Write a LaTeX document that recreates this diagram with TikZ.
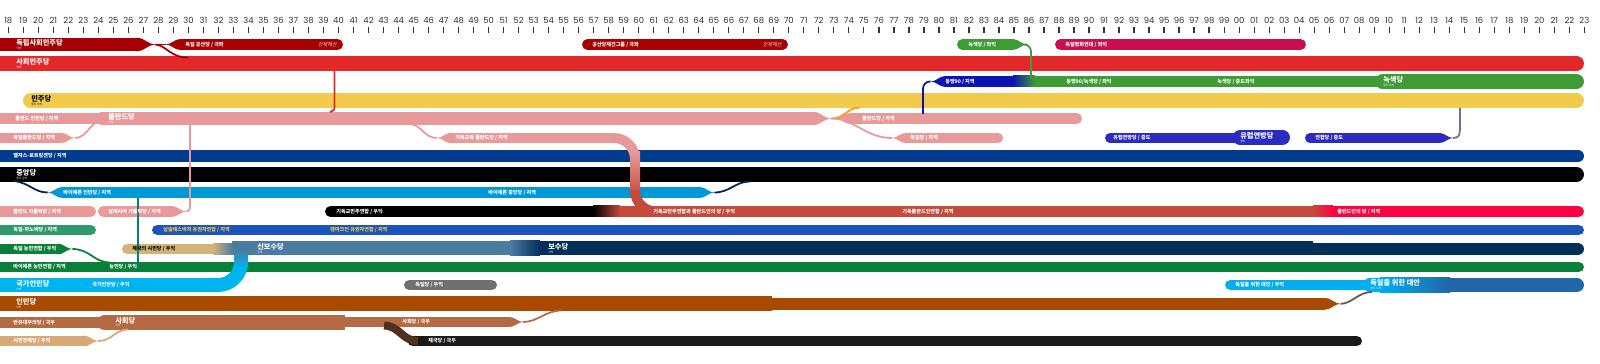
\documentclass[tikz,border=0pt]{standalone}
\usepackage{fontspec}
\setmainfont{Noto Sans CJK KR}
\newfontfamily\yearfont{Poppins}
\newfontfamily\slantfont{Noto Sans CJK KR}[FakeSlant=0.2]
\usetikzlibrary{calc}

\definecolor{axisgray}{HTML}{333333}
\definecolor{uspd}{HTML}{A60000}
\definecolor{spd}{HTML}{E3282A}
\definecolor{gruen}{HTML}{3F9C35}
\definecolor{frieden}{HTML}{C8104F}
\definecolor{buendnis}{HTML}{0A14B4}
\definecolor{ddp}{HTML}{F2CB4C}
\definecolor{polen}{HTML}{E89A9A}
\definecolor{europa}{HTML}{2B2BC0}
\definecolor{elsass}{HTML}{003B8E}
\definecolor{bvp}{HTML}{0098D6}
\definecolor{cdu}{HTML}{C44A3C}
\definecolor{polpartei}{HTML}{FF0040}
\definecolor{ssw}{HTML}{1A55BD}
\definecolor{sswtext}{HTML}{F2CB4C}
\definecolor{hannover}{HTML}{2E9A6C}
\definecolor{bauern}{HTML}{0A7F3A}
\definecolor{reich}{HTML}{D2B478}
\definecolor{neukons}{HTML}{4A7BA0}
\definecolor{kons}{HTML}{002F5A}
\definecolor{dnvp}{HTML}{00B4F0}
\definecolor{dp}{HTML}{707070}
\definecolor{afd}{HTML}{00AEEF}
\definecolor{afddark}{HTML}{2066A8}
\definecolor{volk}{HTML}{A84A00}
\definecolor{sozial}{HTML}{B46A42}
\definecolor{wirtschaft}{HTML}{D9A877}
\definecolor{reichspartei}{HTML}{1A1A1A}

\newcommand\tipr[4]{\fill[#1] ({#2-0.5},{#3-#4/2}) .. controls ({#2+#4*0.5},{#3-#4/2}) and ({#2+#4*0.8},{#3}) .. ({#2+#4*1.3},{#3}) .. controls ({#2+#4*0.8},{#3}) and ({#2+#4*0.5},{#3+#4/2}) .. ({#2-0.5},{#3+#4/2}) -- cycle;}
\newcommand\tipl[4]{\fill[#1] ({#2+0.5},{#3-#4/2}) .. controls ({#2-#4*0.5},{#3-#4/2}) and ({#2-#4*0.8},{#3}) .. ({#2-#4*1.3},{#3}) .. controls ({#2-#4*0.8},{#3}) and ({#2-#4*0.5},{#3+#4/2}) .. ({#2+0.5},{#3+#4/2}) -- cycle;}
\newcommand\roundend[4]{\fill[#1] (#2,#3) circle[radius=#4/2];}

\tikzset{
  lane/.style={line width=#1*0.5669pt},
  rnd/.style={line cap=round},
  link/.style={line width=1pt},
  yearlbl/.style={font=\yearfont\fontsize{4.8}{4.8}\selectfont, text=axisgray, inner sep=0pt},
  big/.style={font=\bfseries\fontsize{4.1}{4.1}\selectfont, text=white, anchor=west, inner sep=0pt},
  small/.style={font=\bfseries\fontsize{2.9}{2.9}\selectfont, text=white, anchor=west, inner sep=0pt},
  sub/.style={font=\fontsize{1.6}{1.6}\selectfont, text=white, anchor=west, inner sep=0pt},
  banned/.style={font=\slantfont\fontsize{2.9}{2.9}\selectfont, text=white!80!uspd, anchor=east, inner sep=0pt}
}

\begin{document}
\begin{tikzpicture}[x=0.02cm,y=-0.02cm]
\useasboundingbox (0,0) rectangle (1600,364);
\fill[white] (0,0) rectangle (1600,364);
\clip (0,0) rectangle (1600,364);

\foreach \i in {0,...,105}{
  \pgfmathtruncatemacro\yy{mod(18+\i,100)}
  \draw[axisgray,line width=0.7pt] ({8.3+\i*15.01},27) -- ({8.3+\i*15.01},33.5);
  \node[yearlbl] (y\i) at ({8.3+\i*15.01},20.7) {\ifnum\yy<10 0\fi\yy};
}

% rows
\draw[lane=14,uspd] (-10,44.5) -- (137,44.5);
\tipr{uspd}{137}{44.5}{14}
\draw[lane=11,uspd] (180,44.5) -- (337.5,44.5);
\tipl{uspd}{180}{44.5}{11}
\roundend{uspd}{337.5}{44.5}{11}
\draw[lane=11,uspd,rnd] (587.5,44.5) -- (782.5,44.5);
\draw[lane=11,gruen] (962.5,44.5) -- (1013,44.5);
\roundend{gruen}{962.5}{44.5}{11}
\tipr{gruen}{1013}{44.5}{11}
\draw[lane=11,frieden,rnd] (1060.5,44.5) -- (1300.5,44.5);

\draw[lane=15,spd,rnd] (-10,63.5) -- (1576.5,63.5);

\draw[lane=11,buendnis] (945,81.5) -- (1014,81.5);
\tipl{buendnis}{945}{81.5}{11}
\draw[lane=11,gruen] (1034,81.5) -- (1390,81.5);
\shade[left color=buendnis,right color=gruen] (1013,76) rectangle (1035,87);
\draw[lane=15,gruen,rnd] (1382.5,81.5) -- (1576.5,81.5);

\draw[lane=15,ddp,rnd] (30.5,100.5) -- (1576.5,100.5);

\draw[lane=11,polen] (-10,118.5) -- (105,118.5);
\draw[lane=14,polen] (100,118.5) -- (813,118.5);
\tipr{polen}{813}{118.5}{14}
\draw[lane=11,polen] (850,118.5) -- (1076.5,118.5);
\tipl{polen}{850}{118.5}{11}
\roundend{polen}{1076.5}{118.5}{11}

\draw[lane=10,polen] (-10,138) -- (62,138);
\tipr{polen}{62}{138}{10}
\draw[lane=10,polen] (905,138) -- (998,138);
\tipl{polen}{905}{138}{10}
\roundend{polen}{998}{138}{10}
\draw[lane=10,europa,rnd] (1110,138) -- (1240,138);
\draw[lane=15,europa,rnd] (1240,137.5) -- (1282.5,137.5);
\draw[lane=10,europa] (1310,138) -- (1440,138);
\roundend{europa}{1310}{138}{10}
\tipr{europa}{1440}{138}{10}

\draw[lane=12,elsass,rnd] (-10,156) -- (1578,156);
\draw[lane=15,black,rnd] (-10,174.5) -- (1576.5,174.5);

\draw[lane=11,bvp] (62,192.5) -- (700,192.5);
\tipl{bvp}{62}{192.5}{11}
\tipr{bvp}{700}{192.5}{11}

\draw[lane=11,polen,rnd] (-10,211.5) -- (90.5,211.5);
\draw[lane=11,polen] (103.5,211.5) -- (172,211.5);
\roundend{polen}{103.5}{211.5}{11}
\tipr{polen}{172}{211.5}{11}
\draw[lane=11,black,rnd] (330.5,211.5) -- (593,211.5);
\draw[lane=11,cdu] (620,211.5) -- (1313,211.5);
\draw[lane=11,polpartei,rnd] (1333,211.5) -- (1578.5,211.5);
\shade[left color=black,right color=cdu] (593,206) rectangle (620,217);
\shade[left color=cdu,right color=polpartei] (1313,206) rectangle (1333,217);

\tipl{polen}{450}{138}{10}
\draw[lane=10,polen,rounded corners=12] (448,138) -- (635,138) -- (635,153);
\shade[top color=polen,bottom color=cdu] (630,152) rectangle (640,196);
\draw[lane=10,cdu,rounded corners=12] (635,195) -- (635,211.5) -- (665,211.5);

\draw[lane=11,hannover,rnd] (-10,230) -- (90.5,230);
\draw[lane=11,ssw,rnd] (157.5,230) -- (1578.5,230);

\draw[lane=11,bauern] (-10,249) -- (58,249);
\tipr{bauern}{58}{249}{11}
\draw[lane=11,reich,rnd] (127.5,249) -- (214,249);
\draw[lane=15,neukons] (232,248) -- (511,248);
\draw[lane=15,kons] (539,248) -- (1313,248);
\draw[lane=13,kons,rnd] (1310,249) -- (1577.5,249);
\shade[left color=reich,right color=neukons] (213,243.5) rectangle (233,254.5);
\shade[left color=neukons,right color=kons] (510,240.5) rectangle (540,255.5);

\draw[lane=11,bauern,rnd] (-10,267) -- (1578.5,267);

\draw[lane=14,dnvp,rounded corners=13] (-10,285) -- (241,285) -- (241,266);
\shade[top color=neukons,bottom color=dnvp] (234,249) rectangle (248,267);
\draw[lane=11,dp,rnd] (409.5,285) -- (491.5,285);
\draw[lane=11,afd,rnd] (1230.5,285) -- (1375,285);
\draw[lane=15,afd,rnd] (1370.5,285) -- (1385,285);
\draw[lane=15,afddark,rnd] (1440,285) -- (1576.5,285);
\shade[left color=afd,right color=afddark] (1380,277.5) rectangle (1450,292.5);

\draw[lane=15,volk] (-10,303.5) -- (772,303.5);
\draw[lane=12,volk] (765,303.8) -- (1325,303.8);
\tipr{volk}{1325}{303.8}{12}

\draw[lane=11,sozial] (-10,322.5) -- (100,322.5);
\draw[lane=15,sozial] (104.5,322.5) -- (345,322.5);
\roundend{sozial}{104.5}{322.5}{15}
\draw[lane=10,sozial] (340,322) -- (510,322);
\tipr{sozial}{510}{322}{10}

\draw[lane=11,wirtschaft] (-10,341) -- (84,341);
\tipr{wirtschaft}{84}{341}{11}
\draw[lane=11,reichspartei,rnd] (413,341) -- (1356.5,341);

% connectors
\coordinate (uspdTip) at (155.2,44.5);
\coordinate (kpdTip) at (165.7,44.5);
\coordinate (spdJoin) at (188,57.5);
\coordinate (spdDrop) at (334.5,70);
\coordinate (polenJoin) at (330,112);
\coordinate (gruenTip) at (1027.3,44.5);
\coordinate (gruenJoin) at (1031,79);
\coordinate (bueJoin) at (923,114);
\coordinate (bueTip) at (930.7,81.5);
\coordinate (polenTip) at (831.2,118.5);
\coordinate (polenRegTip) at (835.7,118.5);
\coordinate (ddpJoin) at (860,107.5);
\coordinate (dpTip) at (892,138);
\coordinate (cpJoin) at (410,124);
\coordinate (cpTip) at (437,138);
\coordinate (silJoin) at (190,125);
\coordinate (silTip) at (186.3,211.5);
\coordinate (dpolTip) at (75,138);
\coordinate (dpolJoin) at (104,120);
\coordinate (zJoin) at (14,181);
\coordinate (bvpTipL) at (47.7,192.5);
\coordinate (bvpTipR) at (714.3,192.5);
\coordinate (zRejoin) at (750,181.5);
\coordinate (bvpDrop) at (138,198);
\coordinate (bauernJoin) at (138,262);
\coordinate (dbTip) at (72.3,249);
\coordinate (bpJoin) at (110,262.5);
\coordinate (volkTip) at (1340.6,303.8);
\coordinate (afdJoin) at (1372,292);
\coordinate (sozTip) at (523,322);
\coordinate (volkJoin) at (562,310.5);
\coordinate (sozFork) at (384,325.5);
\coordinate (rpStart) at (418,341);
\coordinate (wTip) at (98.3,341);
\coordinate (sozJoin) at (128,329.5);
\coordinate (euTip) at (1453,138);
\coordinate (ddpDrop) at (1460,108);

\draw[link,uspd] (uspdTip) -- (kpdTip);
\draw[link,uspd] (uspdTip) .. controls (166,45) and (170,57.5) .. (spdJoin);
\draw[link,spd] (spdDrop) -- (334.5,106) .. controls (334.5,110) .. (polenJoin);
\draw[link,gruen,rounded corners=4] (gruenTip) -- (1031,44.5) -- (gruenJoin);
\draw[link,buendnis,rounded corners=4] (bueJoin) -- (923,81.5) -- (bueTip);
\draw[link,polen] (polenTip) -- (polenRegTip);
\draw[link,orange!60!ddp] (polenTip) .. controls (845,118.5) and (846,108) .. (ddpJoin);
\draw[link,polen] (polenTip) .. controls (855,118.5) and (865,138) .. (dpTip);
\draw[link,polen] (cpJoin) .. controls (422,125) and (424,138) .. (cpTip);
\draw[link,polen] (silJoin) -- (190,204) .. controls (190,210) .. (silTip);
\draw[link,polen] (dpolTip) .. controls (88,138) and (90,120) .. (dpolJoin);
\draw[link,elsass!60!black] (zJoin) .. controls (30,183) and (34,192.5) .. (bvpTipL);
\draw[link,elsass!60!black] (bvpTipR) .. controls (730,192.5) and (735,181.5) .. (zRejoin);
\draw[link,teal!80!bauern] (bvpDrop) -- (bauernJoin);
\draw[link,bauern] (dbTip) .. controls (90,249) and (94,262.5) .. (bpJoin);
\draw[link,volk!50!afddark] (volkTip) .. controls (1352,303.8) and (1358,292) .. (afdJoin);
\draw[link,sozial] (sozTip) .. controls (538,322) and (545,310.5) .. (volkJoin);
\draw[lane=8,sozial!45!black] (sozFork) .. controls (400,326) and (402,341) .. (rpStart);
\draw[link,wirtschaft] (wTip) .. controls (112,341) and (115,329.5) .. (sozJoin);
\draw[link,europa!60!ddp] (euTip) .. controls (1459,138) and (1460,135) .. (1460,128) -- (ddpDrop);

% labels
\node[big] (uspdLbl) at (16,43) {독립사회민주당};
\node[sub] (uspdSub) at (16,48.5) {극좌};
\node[small] (kpdLbl) at (185,44.5) {독일 공산당 / 극좌};
\node[banned] (kpdBan) at (337,44.5) {강제해산};
\node[small] (kpoLbl) at (592,44.5) {공산당재건그룹 / 극좌};
\node[banned] (kpoBan) at (782,44.5) {강제해산};
\node[small] (gruenLbl) at (968,44.5) {녹색당 / 좌익};
\node[small] (friedenLbl) at (1065,44.5) {독일평화연대 / 좌익};
\node[big] (spdLbl) at (16,62) {사회민주당};
\node[sub] (spdSub) at (16,67.5) {좌익};
\node[small] (bueLbl) at (945,81.5) {동맹90 / 지역};
\node[small] (bgLbl) at (1066,81.5) {동맹90/녹색당 / 좌익};
\node[small] (gLbl) at (1217,81.5) {녹색당 / 중도좌익};
\node[big] (greenLbl) at (1383,80) {녹색당};
\node[sub] (greenSub) at (1383,85.5) {중도 좌익};
\node[big,text=black] (ddpLbl) at (31,99) {민주당};
\node[sub,text=black] (ddpSub) at (31,104.5) {중도 우익};
\node[small] (pvLbl) at (15,118.5) {폴란드 인민당 / 지역};
\node[big] (polenLbl) at (108,117) {폴란드당};
\node[sub] (polenSub) at (108,122.5) {지역};
\node[small] (prLbl) at (862,118.5) {폴란드당 / 지역};
\node[small] (dpolLbl) at (13,138) {독일폴란드당 / 지역};
\node[small] (cpLbl) at (455,138) {기독교와 폴란드인 / 지역};
\node[small] (dpLbl) at (910,138) {독일당 / 지역};
\node[small] (euLbl) at (1113,138) {유럽연방당 / 중도};
\node[big] (efpLbl) at (1240,136) {유럽연방당};
\node[sub] (efpSub) at (1240,141.5) {중도};
\node[small] (unionLbl) at (1315,138) {연합당 / 중도};
\node[small] (elsLbl) at (13,156) {엘자스-로트링겐당 / 지역};
\node[big] (zLbl) at (16,173) {중앙당};
\node[sub] (zSub) at (16,178.5) {중도 우익};
\node[small] (bvpLbl) at (63,192.5) {바이에른 인민당 / 지역};
\node[small] (bzLbl) at (488,192.5) {바이에른 중앙당 / 지역};
\node[small] (pkLbl) at (13,211.5) {폴란드 가톨릭당 / 지역};
\node[small] (silLbl) at (108,211.5) {실레시아 가톨릭당 / 지역};
\node[small] (cvLbl) at (336,211.5) {기독교민주연합 / 우익};
\node[small] (cpdLbl) at (653,211.5) {기독교민주연합과 폴란드인의 당 / 우익};
\node[small] (cprLbl) at (902,211.5) {기독폴란드인연합 / 지역};
\node[small] (ppLbl) at (1337,211.5) {폴란드인의 당 / 지역};
\node[small] (hanLbl) at (13,230) {독일-하노버당 / 지역};
\node[small,text=sswtext] (sswLbl) at (163,230) {남슐레스비히 유권자연합 / 지역};
\node[small,text=sswtext] (dkLbl) at (330,230) {덴마크인 유권자연합 / 지역};
\node[small] (dbLbl) at (13,249) {독일 농민연합 / 우익};
\node[small,text=black] (reichLbl) at (132,249) {제국의 시민당 / 우익};
\node[big] (nkLbl) at (257,246.5) {신보수당};
\node[sub] (nkSub) at (257,252) {우익};
\node[big] (konsLbl) at (548,246.5) {보수당};
\node[sub] (konsSub) at (548,252) {우익};
\node[small] (bbLbl) at (13,267) {바이에른 농민연합 / 지역};
\node[small] (bpLbl) at (109,267) {농민당 / 우익};
\node[big] (dnvpLbl) at (16,283.5) {국가인민당};
\node[sub] (dnvpSub) at (16,289) {우익};
\node[small] (dnvpSmall) at (92,285) {국가인민당 / 우익};
\node[small] (dpRightLbl) at (415,285) {독일당 / 우익};
\node[small] (afdSmall) at (1235,285) {독일을 위한 대안 / 우익};
\node[big] (afdLbl) at (1370,283) {독일을 위한 대안};
\node[sub] (afdSub) at (1370,288.5) {중도 우익};
\node[big] (volkLbl) at (16,302) {인민당};
\node[sub] (volkSub) at (16,307.5) {우익};
\node[small] (auLbl) at (13,322.5) {반유대주의당 / 극우};
\node[big] (sozLbl) at (115,320.5) {사회당};
\node[sub] (sozSub) at (115,326) {극우};
\node[small] (sozSmall) at (402,322) {사회당 / 극우};
\node[small] (wLbl) at (13,341) {시민경제당 / 우익};
\node[small] (rpLbl) at (428,341) {제국당 / 극우};
\end{tikzpicture}
\end{document}
